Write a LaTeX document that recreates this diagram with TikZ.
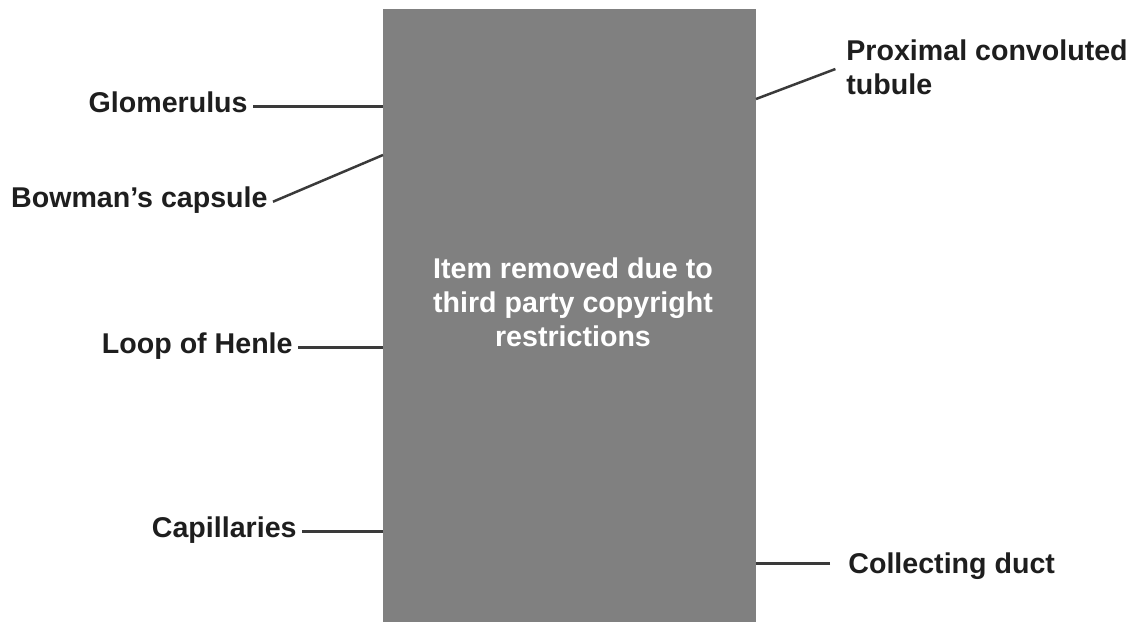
\documentclass[tikz,border=0pt]{standalone}
\usepackage{fontspec}
\setmainfont{Liberation Sans}
\definecolor{boxgray}{HTML}{808080}
\definecolor{inkgray}{HTML}{1E1E1E}
\definecolor{leadgray}{HTML}{3A3A3A}
\begin{document}
\begin{tikzpicture}[x=0.5pt,y=-0.5pt,
    lbl/.style={inner xsep=2.5pt,inner ysep=0pt,text=inkgray,font=\fontsize{14.3}{17}\selectfont\bfseries},
    leader/.style={draw=leadgray,line width=1.25pt},
    blank/.style={fill=boxgray,draw=none,minimum width=186.5pt,minimum height=306.5pt,inner sep=0pt}]
  \useasboundingbox (0,0) rectangle (1136,622);
  \node[blank] (box) at (569.5,315.5) {};
  \node[lbl,text=white,align=center,anchor=north] (note) at (573,257)
    {Item removed due to\\third party copyright\\restrictions};
  \draw
    (253,112) node[lbl,anchor=base east] (glom){Glomerulus}
    (273,207) node[lbl,anchor=base east] (bowman){Bowman's capsule}
    (298,353) node[lbl,anchor=base east] (henle){Loop of Henle}
    (302,537) node[lbl,anchor=base east] (capil){Capillaries}
    (841,39) node[lbl,anchor=north west,align=left] (prox){Proximal convoluted\\tubule}
    (843,573) node[lbl,anchor=base west] (duct){Collecting duct};
  \coordinate (bc) at (383,155);
  \coordinate (pct) at (756,99);
  \begin{scope}[leader]
    \draw (glom.mid east) to (glom.mid east -| box.west);
    \draw (bowman.mid east) to (bc);
    \draw (henle.mid east) to (henle.mid east -| box.west);
    \draw (capil.mid east) to (capil.mid east -| box.west);
    \draw[shorten <=3pt] (prox.west) to (pct);
    \draw[shorten <=6.5pt] ([yshift=2pt]duct.mid west) to ([yshift=2pt]duct.mid west -| box.east);
  \end{scope}
\end{tikzpicture}
\end{document}
